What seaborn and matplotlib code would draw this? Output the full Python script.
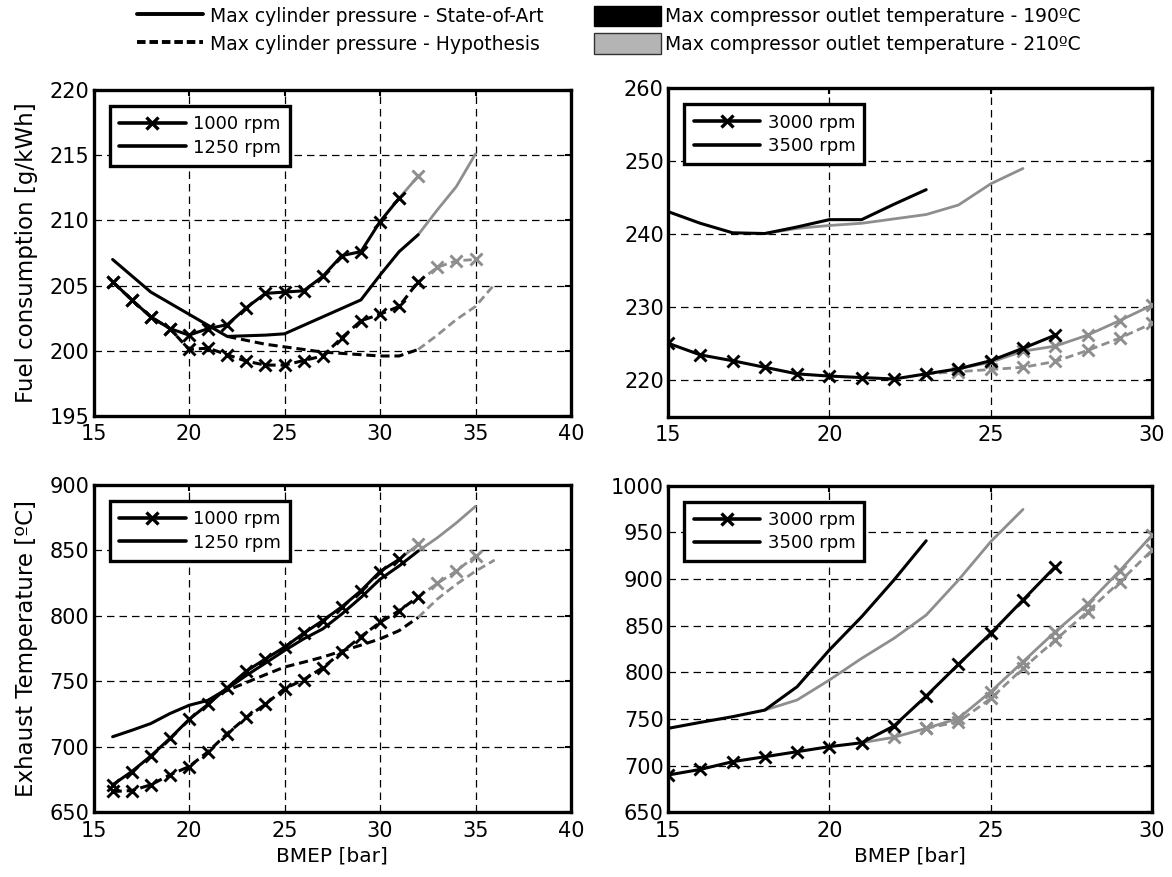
import matplotlib
matplotlib.use("Agg")
import matplotlib.pyplot as plt
import seaborn as sns
from matplotlib.lines import Line2D
from matplotlib.patches import Patch

# ---- data (BMEP in bar) ----
# top-left: fuel consumption [g/kWh], 1000 / 1250 rpm
tl_x_1000_sota = [16, 17, 18, 19, 20, 21, 22, 23, 24, 25, 26, 27, 28, 29, 30, 31]
tl_y_1000_sota = [205.3, 203.9, 202.6, 201.7, 201.2, 201.7, 202.0, 203.3, 204.4, 204.5,
                  204.6, 205.7, 207.3, 207.6, 209.9, 211.7]
tl_x_1000_sota_hot = [31, 32]
tl_y_1000_sota_hot = [211.7, 213.4]
tl_x_1000_hyp = [16, 17, 18, 19, 20, 21, 22, 23, 24, 25, 26, 27, 28, 29, 30, 31, 32]
tl_y_1000_hyp = [205.3, 203.9, 202.6, 201.7, 200.1, 200.2, 199.7, 199.2, 198.9, 198.9,
                 199.25, 199.6, 201.0, 202.3, 202.8, 203.4, 205.3]
tl_x_1000_hyp_hot = [32, 33, 34, 35]
tl_y_1000_hyp_hot = [205.3, 206.4, 206.9, 207.0]
tl_x_1250_sota = [16, 17, 18, 19, 20, 21, 22, 23, 24, 25, 26, 27, 28, 29, 30, 31, 32]
tl_y_1250_sota = [207.0, 205.75, 204.5, 203.65, 202.8, 201.95, 201.1, 201.15, 201.2, 201.3,
                  201.95, 202.6, 203.25, 203.9, 205.8, 207.6, 208.9]
tl_x_1250_sota_hot = [32, 33, 34, 35]
tl_y_1250_sota_hot = [208.9, 210.8, 212.6, 215.1]
tl_x_1250_hyp = [22, 23, 24, 25, 26, 27, 28, 29, 30, 31, 32]
tl_y_1250_hyp = [201.1, 200.8, 200.5, 200.3, 200.1, 199.9, 199.8, 199.7, 199.6, 199.6, 200.1]
tl_x_1250_hyp_hot = [32, 33, 34, 35, 36]
tl_y_1250_hyp_hot = [200.1, 201.2, 202.4, 203.4, 205.1]

# top-right: fuel consumption [g/kWh], 3000 / 3500 rpm
tr_x_3000_sota = [15, 16, 17, 18, 19, 20, 21, 22, 23, 24, 25, 26, 27]
tr_y_3000_sota = [225.1, 223.5, 222.7, 221.8, 220.9, 220.6, 220.4, 220.2, 220.9, 221.6,
                  222.7, 224.4, 226.2]
tr_x_3000_sota_hot = [24, 25, 26, 27, 28, 29, 30]
tr_y_3000_sota_hot = [221.6, 222.5, 224.0, 224.7, 226.2, 228.2, 230.3]
tr_x_3000_hyp_hot = [23, 24, 25, 26, 27, 28, 29, 30]
tr_y_3000_hyp_hot = [220.9, 221.2, 221.5, 221.8, 222.6, 224.1, 225.8, 227.8]
tr_x_3500_sota = [15, 16, 17, 18, 19, 20, 21, 22, 23]
tr_y_3500_sota = [243.1, 241.5, 240.2, 240.1, 241.0, 242.0, 242.0, 244.1, 246.1]
tr_x_3500_sota_hot = [18, 19, 20, 21, 22, 23, 24, 25, 26]
tr_y_3500_sota_hot = [240.1, 240.8, 241.2, 241.5, 242.1, 242.7, 244.0, 246.9, 249.0]

# bottom-left: exhaust temperature [ºC], 1000 / 1250 rpm
bl_x_1000_sota = [16, 17, 18, 19, 20, 21, 22, 23, 24, 25, 26, 27, 28, 29, 30, 31]
bl_y_1000_sota = [670.9, 681.0, 692.9, 706.3, 720.8, 732.4, 745.0, 757.7, 767.0, 776.0,
                  786.6, 796.2, 806.8, 819.0, 833.7, 843.0]
bl_x_1000_sota_hot = [31, 32]
bl_y_1000_sota_hot = [843.0, 854.4]
bl_x_1000_hyp = [16, 17, 18, 19, 20, 21, 22, 23, 24, 25, 26, 27, 28, 29, 30, 31, 32]
bl_y_1000_hyp = [665.8, 666.5, 670.9, 678.5, 684.8, 696.2, 710.0, 722.3, 732.4, 744.3,
                 751.1, 760.3, 772.2, 784.0, 794.9, 803.8, 814.4]
bl_x_1000_hyp_hot = [32, 33, 34, 35]
bl_y_1000_hyp_hot = [814.4, 824.6, 834.2, 845.6]
bl_x_1250_sota = [16, 17, 18, 19, 20, 21, 22, 23, 24, 25, 26, 27, 28, 29, 30, 31, 32]
bl_y_1250_sota = [707.6, 712.5, 717.7, 725.3, 731.6, 735.4, 744.3, 754.4, 763.8, 773.4,
                  782.3, 789.9, 801.3, 813.9, 827.8, 838.0, 849.4]
bl_x_1250_sota_hot = [32, 33, 34, 35]
bl_y_1250_sota_hot = [849.4, 859.5, 870.9, 883.5]
bl_x_1250_hyp = [21, 22, 23, 24, 25, 26, 27, 28, 29, 30, 31, 32]
bl_y_1250_hyp = [735.4, 743.0, 749.0, 755.0, 760.8, 764.5, 768.4, 773.0, 777.5, 782.3,
                 788.6, 798.7]
bl_x_1250_hyp_hot = [32, 33, 34, 35, 36]
bl_y_1250_hyp_hot = [798.7, 812.7, 824.0, 834.0, 842.5]

# bottom-right: exhaust temperature [ºC], 3000 / 3500 rpm
br_x_3000_sota = [15, 16, 17, 18, 19, 20, 21, 22, 23, 24, 25, 26, 27]
br_y_3000_sota = [690.0, 696.0, 704.3, 709.6, 715.0, 720.4, 724.6, 742.5, 774.6, 808.6,
                  841.8, 877.5, 913.2]
br_x_3000_sota_hot = [21, 22, 23, 24, 25, 26, 27, 28, 29, 30]
br_y_3000_sota_hot = [724.6, 730.4, 740.0, 750.7, 779.3, 811.4, 843.6, 873.2, 908.9, 947.1]
br_x_3000_hyp_hot = [23, 24, 25, 26, 27, 28, 29, 30]
br_y_3000_hyp_hot = [740.0, 747.0, 772.0, 804.3, 834.6, 865.0, 897.0, 931.0]
br_x_3500_sota = [15, 16, 17, 18, 19, 20, 21, 22, 23]
br_y_3500_sota = [740.0, 746.4, 752.5, 759.6, 784.6, 824.0, 859.6, 898.9, 941.0]
br_x_3500_sota_hot = [18, 19, 20, 21, 22, 23, 24, 25, 26]
br_y_3500_sota_hot = [759.6, 770.4, 791.8, 815.0, 836.4, 861.4, 898.9, 940.0, 974.6]

low_speeds = ["1000 rpm", "1250 rpm"]
high_speeds = ["3000 rpm", "3500 rpm"]
top_labels_lines = ["Max cylinder pressure - State-of-Art", "Max cylinder pressure - Hypothesis"]
top_labels_patches = ["Max compressor outlet temperature - 190ºC",
                      "Max compressor outlet temperature - 210ºC"]

BLACK = "black"
GREY = "#8e8e8e"
DASH = (0, (3, 1.6))

sns.set_theme(style="white")
plt.rcParams["font.family"] = ["DejaVu Sans"]
plt.rcParams["text.color"] = "black"
plt.rcParams["axes.labelcolor"] = "black"

fig = plt.figure(figsize=(11.72, 8.77), dpi=100)
ax_tl = fig.add_axes([0.0798, 0.5257, 0.4074, 0.3717])
ax_tr = fig.add_axes([0.5700, 0.5245, 0.4130, 0.3751])
ax_bl = fig.add_axes([0.0798, 0.0739, 0.4074, 0.3734])
ax_br = fig.add_axes([0.5700, 0.0737, 0.4130, 0.3725])


def curve(ax, x, y, color, ls="-", marker=False):
    kw = dict(x=x, y=y, ax=ax, color=color, linestyle=ls, sort=False, estimator=None,
              linewidth=2.2 if color == BLACK else 2.0,
              zorder=4 if color == BLACK else 3)
    if marker:
        kw.update(marker="x", markersize=8, markeredgewidth=2.1, markeredgecolor=color)
    sns.lineplot(**kw)


# gray (210ºC) first, black (190ºC) on top
curve(ax_tl, tl_x_1000_sota_hot, tl_y_1000_sota_hot, GREY, marker=True)
curve(ax_tl, tl_x_1000_hyp_hot, tl_y_1000_hyp_hot, GREY, DASH, marker=True)
curve(ax_tl, tl_x_1250_sota_hot, tl_y_1250_sota_hot, GREY)
curve(ax_tl, tl_x_1250_hyp_hot, tl_y_1250_hyp_hot, GREY, DASH)
curve(ax_tl, tl_x_1000_sota, tl_y_1000_sota, BLACK, marker=True)
curve(ax_tl, tl_x_1000_hyp, tl_y_1000_hyp, BLACK, DASH, marker=True)
curve(ax_tl, tl_x_1250_sota, tl_y_1250_sota, BLACK)
curve(ax_tl, tl_x_1250_hyp, tl_y_1250_hyp, BLACK, DASH)

curve(ax_tr, tr_x_3000_sota_hot, tr_y_3000_sota_hot, GREY, marker=True)
curve(ax_tr, tr_x_3000_hyp_hot, tr_y_3000_hyp_hot, GREY, DASH, marker=True)
curve(ax_tr, tr_x_3500_sota_hot, tr_y_3500_sota_hot, GREY)
curve(ax_tr, tr_x_3000_sota, tr_y_3000_sota, BLACK, marker=True)
curve(ax_tr, tr_x_3500_sota, tr_y_3500_sota, BLACK)

curve(ax_bl, bl_x_1000_sota_hot, bl_y_1000_sota_hot, GREY, marker=True)
curve(ax_bl, bl_x_1000_hyp_hot, bl_y_1000_hyp_hot, GREY, DASH, marker=True)
curve(ax_bl, bl_x_1250_sota_hot, bl_y_1250_sota_hot, GREY)
curve(ax_bl, bl_x_1250_hyp_hot, bl_y_1250_hyp_hot, GREY, DASH)
curve(ax_bl, bl_x_1000_sota, bl_y_1000_sota, BLACK, marker=True)
curve(ax_bl, bl_x_1000_hyp, bl_y_1000_hyp, BLACK, DASH, marker=True)
curve(ax_bl, bl_x_1250_sota, bl_y_1250_sota, BLACK)
curve(ax_bl, bl_x_1250_hyp, bl_y_1250_hyp, BLACK, DASH)

curve(ax_br, br_x_3000_sota_hot, br_y_3000_sota_hot, GREY, marker=True)
curve(ax_br, br_x_3000_hyp_hot, br_y_3000_hyp_hot, GREY, DASH, marker=True)
curve(ax_br, br_x_3500_sota_hot, br_y_3500_sota_hot, GREY)
curve(ax_br, br_x_3000_sota, br_y_3000_sota, BLACK, marker=True)
curve(ax_br, br_x_3500_sota, br_y_3500_sota, BLACK)

# axes limits / ticks
ax_tl.set(xlim=(15, 40), ylim=(195, 220), xticks=[15, 20, 25, 30, 35, 40],
          yticks=[195, 200, 205, 210, 215, 220])
ax_tr.set(xlim=(15, 30), ylim=(215, 260), xticks=[15, 20, 25, 30],
          yticks=[220, 230, 240, 250, 260])
ax_bl.set(xlim=(15, 40), ylim=(650, 900), xticks=[15, 20, 25, 30, 35, 40],
          yticks=[650, 700, 750, 800, 850, 900])
ax_br.set(xlim=(15, 30), ylim=(650, 1000), xticks=[15, 20, 25, 30],
          yticks=[650, 700, 750, 800, 850, 900, 950, 1000])

for ax, speeds in [(ax_tl, low_speeds), (ax_tr, high_speeds),
                   (ax_bl, low_speeds), (ax_br, high_speeds)]:
    ax.set_axisbelow(True)
    ax.grid(True, color="black", linestyle=(0, (6, 4)), linewidth=0.9)
    ax.tick_params(direction="in", length=4, width=1.5, top=True, right=True,
                   labelsize=15, colors="black")
    ax.tick_params(axis="x", pad=6)
    ax.tick_params(axis="y", pad=3)
    for s in ax.spines.values():
        s.set_linewidth(2.4)
        s.set_color("black")
    ax.set_xlabel("")
    ax.set_ylabel("")
    handles = [Line2D([], [], color=BLACK, lw=2.6, marker="x", ms=9, mew=2.4),
               Line2D([], [], color=BLACK, lw=2.6)]
    leg = ax.legend(handles, speeds, loc="upper left", bbox_to_anchor=(0.034, 0.95),
                    borderaxespad=0, fontsize=13, handlelength=3.7, handletextpad=0.4,
                    frameon=True, fancybox=False, framealpha=1, edgecolor="black",
                    borderpad=0.5, labelspacing=0.3)
    leg.get_frame().set_linewidth(2.4)
    leg.set_zorder(10)

ax_tl.set_ylabel("Fuel consumption [g/kWh]", fontsize=16.5, labelpad=8)
ax_bl.set_ylabel("Exhaust Temperature [ºC]", fontsize=16.5, labelpad=8)
ax_bl.set_xlabel("BMEP [bar]", fontsize=14.5, labelpad=4)
ax_br.set_xlabel("BMEP [bar]", fontsize=14.5, labelpad=4)

# figure legends on top
line_handles = [Line2D([], [], color=BLACK, lw=2.8),
                Line2D([], [], color=BLACK, lw=2.8, linestyle=(0, (2.2, 1.0)))]
fig.legend(line_handles, top_labels_lines, loc="upper left",
           bbox_to_anchor=(0.1169, 0.9937), frameon=False, fontsize=13.5,
           handlelength=3.5, handleheight=1.33, handletextpad=0.37, borderpad=0,
           borderaxespad=0, labelspacing=0.37)
patch_handles = [Patch(facecolor="black", edgecolor="black"),
                 Patch(facecolor="#b4b4b4", edgecolor="#333333", linewidth=1)]
fig.legend(patch_handles, top_labels_patches, loc="upper left",
           bbox_to_anchor=(0.5068, 0.9937), frameon=False, fontsize=13.5,
           handlelength=3.57, handleheight=1.33, handletextpad=0.2, borderpad=0,
           borderaxespad=0, labelspacing=0.37)

fig.savefig("out.png", dpi=100, facecolor="white")
